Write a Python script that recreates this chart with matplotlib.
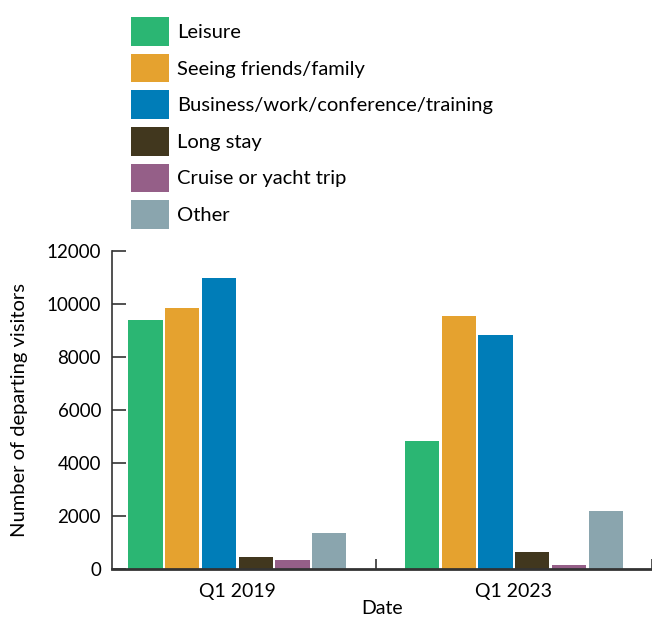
import matplotlib.pyplot as plt
from matplotlib.patches import Patch
import numpy as np

plt.rcParams['font.family'] = ['Lato', 'DejaVu Sans']

# data
dates = ['Q1 2019', 'Q1 2023']
categories = ['Leisure', 'Seeing friends/family', 'Business/work/conference/training',
              'Long stay', 'Cruise or yacht trip', 'Other']
leisure = [9400, 4850]
friends_family = [9850, 9550]
business = [11000, 8840]
long_stay = [450, 640]
cruise = [340, 150]
other = [1350, 2180]
colors = ['#2bb673', '#e5a22f', '#007db8', '#41371e', '#955f88', '#8aa5ae']

series = [leisure, friends_family, business, long_stay, cruise, other]

fig = plt.figure(figsize=(6.52, 6.2), dpi=100)
ax = fig.add_axes([0.172, 0.082, 0.828, 0.513])

x = np.arange(len(dates))
step = 0.133
width = 0.124
for i, (vals, col) in enumerate(zip(series, colors)):
	ax.bar(x + (i - 2.5) * step, vals, width=width, color=col)

ax.set_ylim(0, 12000)
ax.set_xlim(-0.453, 1.5)
ax.set_yticks(range(0, 12001, 2000))
ax.tick_params(axis='y', direction='in', length=10, width=1.2, labelsize=13.5, color='#333333', pad=8)

# category labels between minor tick marks
ax.set_xticks(x)
ax.set_xticklabels(dates, fontsize=14)
ax.tick_params(axis='x', length=0, pad=10)
ax.set_xticks([0.5, 1.5], minor=True)
ax.tick_params(axis='x', which='minor', direction='in', length=7, width=1.2, color='#333333')

for side in ['top', 'right']:
	ax.spines[side].set_visible(False)
ax.spines['left'].set_color('#333333')
ax.spines['left'].set_linewidth(1.2)
ax.spines['bottom'].set_color('#333333')
ax.spines['bottom'].set_linewidth(2)

ax.set_ylabel('Number of departing visitors', fontsize=14.5, labelpad=13)
ax.set_xlabel('Date', fontsize=14, labelpad=0)

handles = [Patch(facecolor=c, label=l) for c, l in zip(colors, categories)]
fig.legend(handles=handles, loc='upper left', bbox_to_anchor=(0.188, 0.985),
	frameon=False, fontsize=14.5, handlelength=1.9, handleheight=1.8,
	labelspacing=0.4, handletextpad=0.4, borderaxespad=0)

fig.savefig('out.png', dpi=100)
